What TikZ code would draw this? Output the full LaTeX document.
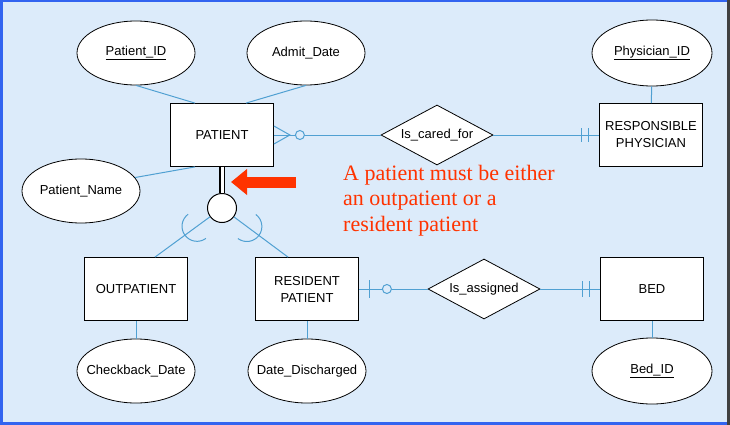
\documentclass[tikz,border=0pt]{standalone}
\usepackage{fontspec}
\setmainfont{Liberation Sans}
\newfontfamily\notefont{Liberation Serif}
\usetikzlibrary{shapes.geometric,arrows.meta,calc}
\definecolor{bgblue}{RGB}{220,235,250}
\definecolor{frameblue}{RGB}{50,100,240}
\definecolor{linkblue}{RGB}{80,160,210}
\definecolor{notered}{RGB}{255,51,0}

\begin{document}
\begin{tikzpicture}[x=1pt,y=1pt,
		ent/.style={draw, fill=white, line width=0.8pt, minimum width=103pt, minimum height=63pt,
			inner sep=0pt, align=center, font=\fontsize{13}{17}\selectfont},
		attr/.style={draw, ellipse, fill=white, line width=0.8pt, minimum width=118pt, minimum height=64pt,
			inner ysep=0pt, inner xsep=-15pt, font=\fontsize{13}{15}\selectfont},
		rel/.style={draw, diamond, aspect=1.9, fill=white, line width=0.8pt, minimum width=112pt,
			minimum height=60pt, inner sep=0pt, font=\fontsize{13}{15}\selectfont},
		link/.style={draw=linkblue, line width=1pt}]
		\useasboundingbox (0,0) rectangle (730,-425);
		\fill[frameblue] (0,0) rectangle (730,-425);
		\fill[bgblue] (3,-2) rectangle (727,-422);
		\fill[black!75] (727,0) rectangle (730,-425);

		% entities
		\node[ent] (pat) at (222,-135) {PATIENT};
		\node[ent] (phys) at (651,-135) {RESPONSIBLE\\PHYSICIAN};
		\node[ent] (out) at (136,-289) {OUTPATIENT};
		\node[ent] (res) at (307,-289) {RESIDENT\\PATIENT};
		\node[ent] (bed) at (652,-289) {BED};

		% attributes
		\node[attr] (pid) at (136,-53) {\underline{Patient\_ID}};
		\node[attr] (adm) at (306,-53) {Admit\_Date};
		\node[attr] (pname) at (81,-191) {Patient\_Name};
		\node[attr, minimum width=120pt, minimum height=66pt] (physid) at (652,-53) {\underline{Physician\_ID}};
		\node[attr] (chk) at (136,-371) {Checkback\_Date};
		\node[attr] (dis) at (307,-371) {Date\_Discharged};
		\node[attr, minimum width=120pt, minimum height=66pt] (bedid) at (652,-371) {\underline{Bed\_ID}};

		% relationships
		\node[rel] (care) at (437,-135) {Is\_cared\_for};
		\node[rel] (assign) at (484,-289) {Is\_assigned};

		\draw[link] (pid.south) -- ([xshift=-27pt]pat.north);
		\draw[link] (adm.south) -- ([xshift=24pt]pat.north);
		\draw[link] (pname.14) -- ([xshift=-27pt]pat.south);
		\draw[link] (physid) -- (phys);
		\draw[link] (out) -- (chk);
		\draw[link] (res) -- (dis);
		\draw[link] (bed) -- (bedid);

		\draw[link] (pat) -- (care);
		\draw[link] (care) -- (phys);
		\draw[link] (res) -- (assign);
		\draw[link] (assign) -- (bed);

		% cardinalities
		\draw[link] ([yshift=9pt]pat.east) -- ([xshift=16pt]pat.east) -- ([yshift=-9pt]pat.east);
		\draw[link, fill=bgblue] ([xshift=26pt]pat.east) circle[radius=4.5pt];
		\draw[link] ([xshift=-18pt,yshift=7pt]phys.west) -- ++(0,-14);
		\draw[link] ([xshift=-11pt,yshift=7pt]phys.west) -- ++(0,-14);
		\draw[link] ([xshift=11pt,yshift=9pt]res.east) -- ++(0,-18);
		\draw[link, fill=bgblue] ([xshift=28pt]res.east) circle[radius=4.5pt];
		\draw[link] ([xshift=-18pt,yshift=8pt]bed.west) -- ++(0,-16);
		\draw[link] ([xshift=-11pt,yshift=8pt]bed.west) -- ++(0,-16);

		% subtypes
		\node[draw, circle, fill=white, line width=1pt, minimum size=29pt, inner sep=0pt] (sup) at (222,-208) {};
		\draw[double=white, double distance=3pt, line width=1.4pt] (pat) -- (sup);
		\draw[link] ([xshift=19pt]out.north) -- (sup);
		\draw[link] ([xshift=-19pt]res.north) -- (sup);
		\draw[link] ($(sup.center)!31pt!([xshift=19pt]out.north)$) ++(126.2:15pt)
			arc[start angle=126.2, end angle=306.2, radius=15pt];
		\draw[link] ($(sup.center)!31pt!([xshift=-19pt]res.north)$) ++(233.4:15pt)
			arc[start angle=233.4, end angle=413.4, radius=15pt];

		% note
		\coordinate (arrtail) at (296,-182);
		\coordinate (arrtip) at (231,-182);
		\draw[notered, line width=11pt, -{Triangle[length=16pt, width=25pt]}] (arrtail) -- (arrtip);
		\node[anchor=north west, inner sep=0pt, align=left, text=notered,
			font=\notefont\fontsize{22}{25.5}\selectfont] (note) at (343,-165)
			{A patient must be either\\an outpatient or a\\resident patient};
	\end{tikzpicture}
\end{document}
